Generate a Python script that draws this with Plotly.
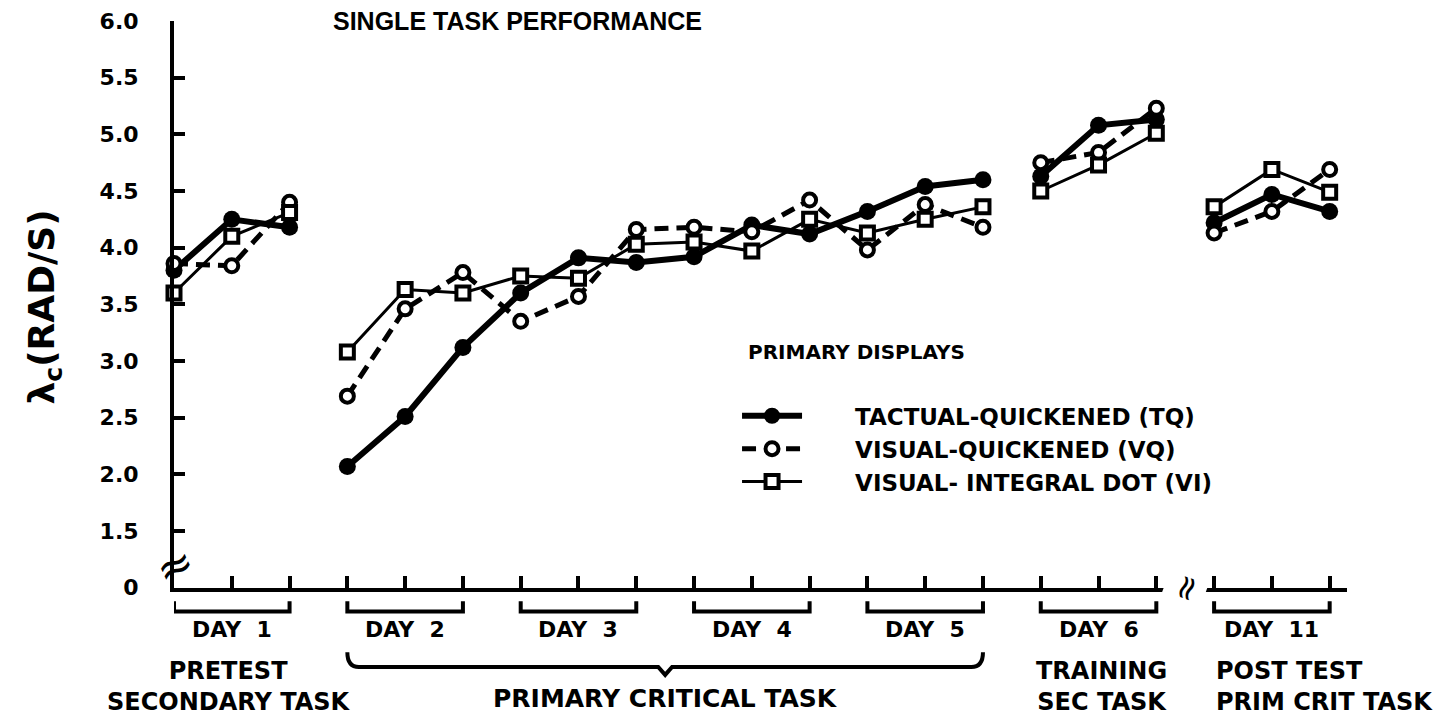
import plotly.graph_objects as go

# three sessions per day, sessions plotted at positions 0..20
SESSIONS = list(range(21))
DAY_LABELS = ["DAY&nbsp;&nbsp;1", "DAY&nbsp;&nbsp;2", "DAY&nbsp;&nbsp;3", "DAY&nbsp;&nbsp;4",
              "DAY&nbsp;&nbsp;5", "DAY&nbsp;&nbsp;6", "DAY&nbsp;&nbsp;11"]
DAY_SPANS = [(0, 2), (3, 5), (6, 8), (9, 11), (12, 14), (15, 17), (18, 20)]

# sessions joined by a line (days 2-5 are one primary-task block)
BLOCKS = [(0, 2), (3, 14), (15, 17), (18, 20)]

TQ = [3.80, 4.25, 4.18, 2.07, 2.51, 3.12, 3.60, 3.91, 3.87, 3.92, 4.20,
      4.12, 4.32, 4.54, 4.60, 4.63, 5.08, 5.13, 4.22, 4.47, 4.32]
VQ = [3.86, 3.84, 4.40, 2.69, 3.46, 3.78, 3.35, 3.57, 4.16, 4.18, 4.14,
      4.42, 3.98, 4.38, 4.18, 4.75, 4.84, 5.23, 4.13, 4.32, 4.69]
VI = [3.60, 4.10, 4.31, 3.08, 3.63, 3.60, 3.75, 3.73, 4.03, 4.05, 3.97,
      4.25, 4.13, 4.25, 4.36, 4.50, 4.73, 5.01, 4.36, 4.69, 4.49]

Y_TICKS = [1.0, 1.5, 2.0, 2.5, 3.0, 3.5, 4.0, 4.5, 5.0, 5.5, 6.0]
Y_TICK_TEXT = ["0", "1.5", "2.0", "2.5", "3.0", "3.5", "4.0", "4.5", "5.0", "5.5", "6.0"]

PHASES = [
    (0.95, "PRETEST<br>SECONDARY TASK", "center"),
    (16.05, "TRAINING<br>SEC TASK", "center"),
    (18.0, "POST TEST<br>PRIM CRIT TASK", "left"),
]

BOLD = "DejaVu Sans"
INK = "black"
PAD = "&nbsp;" * 6  # pushes legend text off the key, as in the original


def joined(values):
    """Split a series into line blocks, separated by None gaps."""
    xs, ys = [], []
    for a, b in BLOCKS:
        xs += SESSIONS[a:b + 1] + [None]
        ys += values[a:b + 1] + [None]
    return xs, ys


def below(v):
    # paper y for a value-unit position below the axis (y range 1..6, domain 1/6..1)
    return v / 6.0


fig = go.Figure()

series = [
    ("TACTUAL-QUICKENED (TQ)", TQ, dict(width=6, color=INK),
     dict(symbol="circle", size=17, color=INK, line=dict(width=0))),
    ("VISUAL-QUICKENED (VQ)", VQ, dict(width=5, color=INK, dash="14px,8px"),
     dict(symbol="circle", size=13, color="white", line=dict(width=4, color=INK))),
    ("VISUAL- INTEGRAL DOT (VI)", VI, dict(width=3, color=INK),
     dict(symbol="square", size=13, color="white", line=dict(width=4, color=INK))),
]
for name, values, line, marker in series:
    xs, ys = joined(values)
    fig.add_trace(go.Scatter(
        x=xs, y=ys, name=PAD + name, mode="lines+markers",
        line=line, marker=marker, cliponaxis=False,
    ))

shapes = []
# day brackets under the axis
for a, b in DAY_SPANS:
    shapes.append(dict(
        type="path", xref="x", yref="paper",
        path=f"M {a},{below(0.88)} L {a},{below(0.79)} L {b},{below(0.79)} L {b},{below(0.88)}",
        line=dict(color=INK, width=4),
    ))
# brace under days 2-5
a, b = DAY_SPANS[1][0], DAY_SPANS[4][1]
mid = (a + b) / 2
shapes.append(dict(
    type="path", xref="x", yref="paper",
    path=(f"M {a},{below(0.43)} Q {a},{below(0.30)} {a + 0.2},{below(0.30)} "
          f"L {mid - 0.12},{below(0.30)} L {mid},{below(0.23)} L {mid + 0.12},{below(0.30)} "
          f"L {b - 0.2},{below(0.30)} Q {b},{below(0.30)} {b},{below(0.43)}"),
    line=dict(color=INK, width=4),
))

annotations = [
    dict(text="<b>SINGLE TASK PERFORMANCE</b>", xref="paper", yref="paper", x=0.293, y=1.0,
         xanchor="center", yanchor="middle", showarrow=False,
         font=dict(family="Liberation Sans Narrow, Liberation Sans", size=25, color=INK)),
    dict(text="<b>λ<sub>c</sub>(RAD/S)</b>", xref="paper", yref="paper", x=-0.11, y=0.58,
         xanchor="center", yanchor="middle", textangle=-90, showarrow=False,
         font=dict(family=BOLD, size=36, color=INK)),
    dict(text="<b>PRIMARY DISPLAYS</b>", xref="x", yref="paper", x=9.9, y=0.513,
         xanchor="left", yanchor="middle", showarrow=False,
         font=dict(family=BOLD, size=20, color=INK)),
    dict(text="<b>PRIMARY CRITICAL TASK</b>", xref="x", yref="paper", x=mid, y=below(0.02),
         xanchor="center", yanchor="middle", showarrow=False,
         font=dict(family=BOLD, size=25, color=INK)),
    # axis breaks
    dict(text="≈", xref="x", yref="y", x=0, y=1.2, textangle=-25, showarrow=False,
         xanchor="center", yanchor="middle", font=dict(family=BOLD, size=44, color=INK)),
    dict(text="≈", xref="x", yref="y", x=17.5, y=1.0, textangle=-70, showarrow=False,
         xanchor="center", yanchor="middle", bgcolor="white", borderpad=0,
         font=dict(family=BOLD, size=34, color=INK)),
]
for (a, b), label in zip(DAY_SPANS, DAY_LABELS):
    annotations.append(dict(
        text=f"<b>{label}</b>", xref="x", yref="paper", x=(a + b) / 2, y=below(0.63),
        xanchor="center", yanchor="middle", showarrow=False,
        font=dict(family=BOLD, size=22, color=INK),
    ))
for x, text, align in PHASES:
    annotations.append(dict(
        text=f"<b>{text}</b>", xref="x", yref="paper", x=x, y=below(0.13),
        xanchor=align, yanchor="middle", align=align, showarrow=False,
        font=dict(family=BOLD, size=24, color=INK),
    ))

# the page adds an 8px body margin, so the figure is 8px smaller and shifted
fig.update_layout(
    width=1439, height=720,
    margin=dict(l=166, r=100, t=13, b=27),
    paper_bgcolor="white", plot_bgcolor="white",
    shapes=shapes, annotations=annotations,
    legend=dict(
        x=0.48, y=0.451, xanchor="left", yanchor="top",
        font=dict(family=BOLD, size=23, color=INK, weight="bold"),
        itemwidth=60, tracegroupgap=0, bgcolor="rgba(0,0,0,0)",
    ),
    xaxis=dict(
        range=[0, 20.3], anchor="y", tickvals=SESSIONS, showticklabels=False,
        ticks="inside", ticklen=12, tickwidth=4, tickcolor=INK, automargin=False,
        showline=True, linewidth=4, linecolor=INK, showgrid=False, zeroline=False,
    ),
    yaxis=dict(
        domain=[1 / 6, 1], range=[1, 6], tickvals=Y_TICKS, ticktext=Y_TICK_TEXT,
        ticks="inside", ticklen=11, tickwidth=4, tickcolor=INK, automargin=False,
        ticklabelstandoff=27,
        tickfont=dict(family=BOLD, size=22, color=INK, weight="bold"),
        showline=True, linewidth=4, linecolor=INK, showgrid=False, zeroline=False,
    ),
)

fig.write_html("out.html")
